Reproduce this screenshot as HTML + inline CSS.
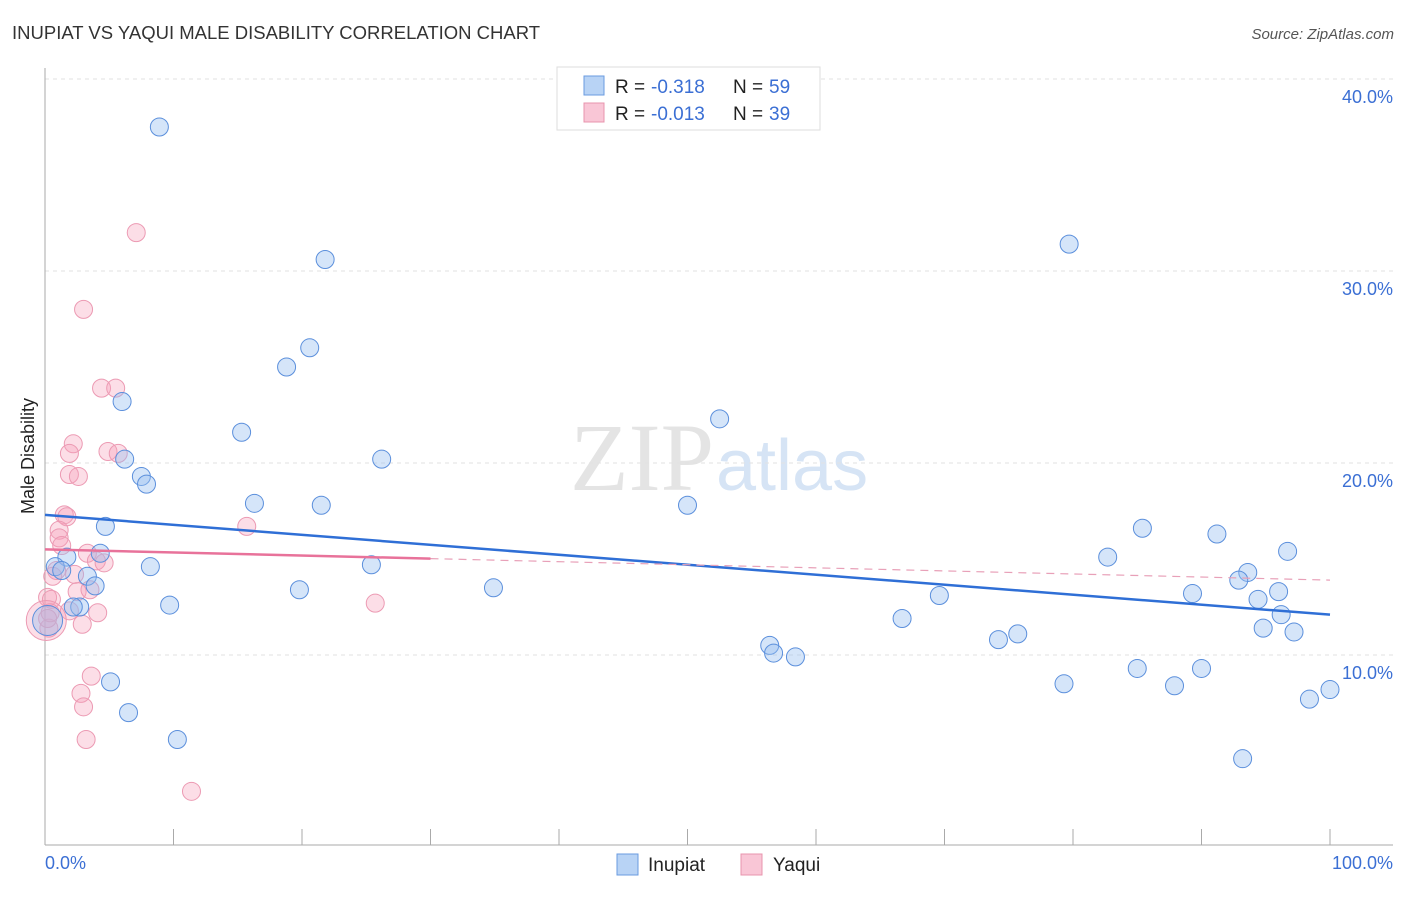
<!DOCTYPE html>
<html><head><meta charset="utf-8"><style>
body{margin:0;background:#fff;font-family:"Liberation Sans",sans-serif;}
</style></head><body>
<svg width="1406" height="892" xmlns="http://www.w3.org/2000/svg" font-family="Liberation Sans, sans-serif">
<text x="12" y="39" font-size="18.5" fill="#333">INUPIAT VS YAQUI MALE DISABILITY CORRELATION CHART</text>
<text x="1394" y="39" font-size="15" fill="#555" font-style="italic" text-anchor="end">Source: ZipAtlas.com</text>
<text x="714" y="490" font-size="96" fill="#e4e4e4" text-anchor="end" font-family="Liberation Serif, serif">ZIP</text>
<text x="716" y="490" font-size="72" fill="#d6e4f5">atlas</text>
<g id="grid"></g>
<g id="axes"></g>
<g id="pts"></g>
<g id="lines"></g>
<text transform="translate(34,456) rotate(-90)" font-size="18" fill="#222" text-anchor="middle">Male Disability</text>
<text x="45" y="869" font-size="18" fill="#3b6fd4">0.0%</text>
<text x="1393" y="869" font-size="18" fill="#3b6fd4" text-anchor="end">100.0%</text>
<g>
<rect x="557" y="67" width="263" height="63" fill="#fff" stroke="#ddd"/>
<rect x="584" y="76" width="20" height="19" fill="#b8d3f5" stroke="#6a9be0"/>
<rect x="584" y="103" width="20" height="19" fill="#f9c6d6" stroke="#e894ad"/>
<text x="615" y="93" font-size="19" fill="#222">R =</text>
<text x="651" y="93" font-size="19" fill="#3b6fd4">-0.318</text>
<text x="733" y="93" font-size="19" fill="#222">N =</text>
<text x="769" y="93" font-size="19" fill="#3b6fd4">59</text>
<text x="615" y="120" font-size="19" fill="#222">R =</text>
<text x="651" y="120" font-size="19" fill="#3b6fd4">-0.013</text>
<text x="733" y="120" font-size="19" fill="#222">N =</text>
<text x="769" y="120" font-size="19" fill="#3b6fd4">39</text>
</g>
<g>
<rect x="617" y="854" width="21" height="21" fill="#b8d3f5" stroke="#6a9be0"/>
<text x="648" y="871" font-size="19" fill="#222">Inupiat</text>
<rect x="741" y="854" width="21" height="21" fill="#f9c6d6" stroke="#e894ad"/>
<text x="773" y="871" font-size="19" fill="#222">Yaqui</text>
</g>
</svg>
<script>
const yTicks=[10,20,30,40];
const yTickLabels=["10.0%","20.0%","30.0%","40.0%"];
const xTicks=[0,10,20,30,40,50,60,70,80,90,100];
const inupiatX=[8.9,21.8,79.7,20.6,18.8,6.0,15.3,52.5,6.2,26.2,7.5,7.9,16.3,21.5,50.0,4.7,85.4,91.2,96.7,82.7,4.3,1.7,0.8,1.3,8.2,25.4,3.3,3.9,93.6,92.9,19.8,34.9,89.3,96.0,69.6,94.4,2.7,2.2,9.7,96.2,0.2,66.7,94.8,97.2,75.7,74.2,56.4,56.7,58.4,5.1,79.3,85.0,90.0,87.9,100,98.4,6.5,10.3,93.2];
const inupiatY=[37.5,30.6,31.4,26.0,25.0,23.2,21.6,22.3,20.2,20.2,19.3,18.9,17.9,17.8,17.8,16.7,16.6,16.3,15.4,15.1,15.3,15.1,14.6,14.4,14.6,14.7,14.1,13.6,14.3,13.9,13.4,13.5,13.2,13.3,13.1,12.9,12.5,12.5,12.6,12.1,11.8,11.9,11.4,11.2,11.1,10.8,10.5,10.1,9.9,8.6,8.5,9.3,9.3,8.4,8.2,7.7,7.0,5.6,4.6];
const yaquiX=[7.1,3.0,4.4,5.5,2.2,1.9,4.9,5.7,1.9,2.6,1.5,1.7,15.7,1.1,1.1,1.3,3.3,4.0,4.6,0.9,2.3,0.6,2.5,3.5,0.2,0.5,1.9,4.1,25.7,2.9,0.3,3.6,2.8,3.0,3.2,11.4,0.1,0.4,0.2];
const yaquiY=[32.0,28.0,23.9,23.9,21.0,20.5,20.6,20.5,19.4,19.3,17.3,17.2,16.7,16.5,16.1,15.7,15.3,14.9,14.8,14.4,14.2,14.1,13.3,13.4,13.0,12.9,12.3,12.2,12.7,11.6,11.4,8.9,8.0,7.3,5.6,2.9,11.8,12.2,11.9];
const inupiatFit=[17.3,12.1];
const yaquiFit=[15.5,13.9];
const NS="http://www.w3.org/2000/svg";
const X=v=>45+v*12.85, Y=v=>847-v*19.2;
function mk(t,a,p){const e=document.createElementNS(NS,t);for(const k in a)e.setAttribute(k,a[k]);document.getElementById(p).appendChild(e);return e;}
yTicks.forEach((t,i)=>{
 const l=mk('line',{x1:45,x2:1393,y1:Y(t),y2:Y(t),stroke:'#e2e2e2','stroke-dasharray':'4,4'},'grid');
 
 
 const tx=mk('text',{x:1393,y:Y(t)+24,'font-size':18,fill:'#3b6fd4','text-anchor':'end'},'grid');
 tx.textContent=yTickLabels[i];
 
 
});
const ax=mk('line',{x1:45,x2:1393,y1:845,y2:845,stroke:'#aaa'},'axes');


const ay=mk('line',{x1:45,x2:45,y1:68,y2:845,stroke:'#aaa'},'axes');


xTicks.forEach(t=>{
 const l=mk('line',{x1:X(t),x2:X(t),y1:829,y2:845,stroke:'#aaa'},'axes');
 
 
});
yaquiX.forEach((x,i)=>{
 const c=mk('circle',{cx:X(x),cy:Y(yaquiY[i]),r:i==36?20:9,fill:'rgba(245,160,185,0.35)',stroke:'#ec9ab3','stroke-width':1},'pts');
 
 
});
inupiatX.forEach((x,i)=>{
 const c=mk('circle',{cx:X(x),cy:Y(inupiatY[i]),r:i==40?15:9,fill:'rgba(150,190,240,0.4)',stroke:'#5b8fdc','stroke-width':1},'pts');
 
 
});
const bl=mk('line',{x1:X(0),x2:X(100),y1:Y(inupiatFit[0]),y2:Y(inupiatFit[1]),stroke:'#2f6fd6','stroke-width':2.5},'lines');


const ym=v=>yaquiFit[0]+(yaquiFit[1]-yaquiFit[0])*v/100;
const ps=mk('line',{x1:X(0),x2:X(30),y1:Y(ym(0)),y2:Y(ym(30)),stroke:'#e8729a','stroke-width':2.5},'lines');


const pd=mk('line',{x1:X(30),x2:X(100),y1:Y(ym(30)),y2:Y(ym(100)),stroke:'#e8a0b8','stroke-width':1.2,'stroke-dasharray':'8,6'},'lines');


</script>
</body></html>
